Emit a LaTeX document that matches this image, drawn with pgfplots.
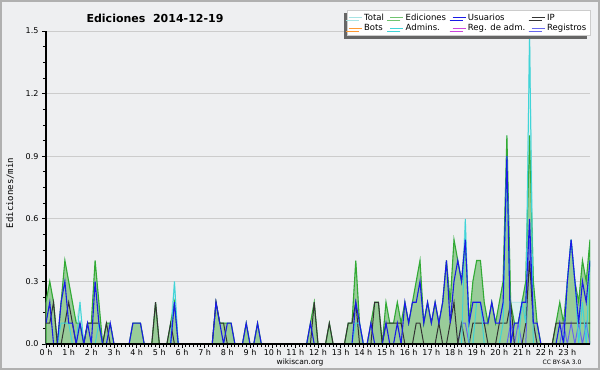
\documentclass[border=0pt]{standalone}
\usepackage{fontspec}
\setmainfont{DejaVu Sans}
\newfontfamily\monofont{DejaVu Sans Mono}
\usepackage{pgfplots}
\usepackage{pgfplotstable}
\pgfplotsset{compat=1.18}
\usetikzlibrary{shadows}
\definecolor{bg}{HTML}{EEEFF1}
\definecolor{framec}{HTML}{B0B0B0}
\definecolor{gridc}{HTML}{CCCCCC}
\definecolor{edfill}{HTML}{99CC99}
\definecolor{edline}{HTML}{33AA33}
\definecolor{usu}{HTML}{1A1AE6}
\definecolor{ipc}{HTML}{333333}
\definecolor{adm}{HTML}{40D4D8}
\definecolor{totline}{HTML}{A8E4E4}
\definecolor{totfill}{HTML}{DDF2F0}
\definecolor{bots}{HTML}{FF9933}
\definecolor{regadm}{HTML}{CC44DD}
\definecolor{reg}{HTML}{6666EE}
\pgfplotstableread{
i E U P A T R
0 0.2 0.1 0.1 0 0.2 0
1 0.3 0.2 0.1 0 0.3 0
2 0.2 0 0.2 0 0.2 0
3 0 0 0 0 0 0
4 0.2 0.2 0 0.1 0.2 0
5 0.4 0.3 0.1 0.1 0.4 0
6 0.3 0.1 0.2 0.1 0.3 0
7 0.2 0.1 0.1 0 0.2 0
8 0.1 0 0 0 0.1 0
9 0.1 0.1 0 0.2 0.2 0
10 0 0 0 0 0 0
11 0.1 0.1 0.1 0 0.1 0
12 0.1 0 0.1 0 0.1 0
13 0.4 0.3 0.1 0 0.4 0
14 0.2 0.1 0.1 0.1 0.2 0
15 0 0 0 0 0 0
16 0.1 0 0.1 0 0.1 0
17 0.1 0.1 0 0 0.1 0
18 0 0 0 0 0 0
19 0 0 0 0 0 0
20 0 0 0 0 0 0
21 0 0 0 0 0 0
22 0 0 0 0 0 0
23 0.1 0.1 0 0 0.1 0
24 0.1 0.1 0 0 0.1 0
25 0.1 0.1 0 0 0.1 0
26 0 0 0 0 0 0
27 0 0 0 0 0 0
28 0 0 0 0 0 0
29 0.2 0 0.2 0 0.2 0
30 0 0 0 0 0 0
31 0 0 0 0 0 0
32 0 0 0 0 0 0
33 0.1 0 0.1 0 0.1 0
34 0.2 0.2 0 0.3 0.3 0
35 0 0 0 0 0 0
36 0 0 0 0 0 0
37 0 0 0 0 0 0
38 0 0 0 0 0 0
39 0 0 0 0 0 0
40 0 0 0 0 0 0
41 0 0 0 0 0 0
42 0 0 0 0 0 0
43 0 0 0 0 0 0
44 0 0 0 0 0 0
45 0.2 0.2 0.2 0 0.2 0
46 0.1 0.1 0.1 0 0.1 0
47 0.1 0 0.1 0 0.1 0
48 0.1 0.1 0 0 0.1 0
49 0.1 0.1 0 0 0.1 0
50 0 0 0 0 0 0
51 0 0 0 0 0 0
52 0 0 0 0 0 0
53 0.1 0.1 0 0 0.1 0
54 0 0 0 0 0 0
55 0 0 0 0 0 0
56 0.1 0.1 0 0 0.1 0
57 0 0 0 0 0 0
58 0 0 0 0 0 0
59 0 0 0 0 0 0
60 0 0 0 0 0 0
61 0 0 0 0 0 0
62 0 0 0 0 0 0
63 0 0 0 0 0 0
64 0 0 0 0 0 0
65 0 0 0 0 0 0
66 0 0 0 0 0 0
67 0 0 0 0 0 0
68 0 0 0 0 0 0
69 0 0 0 0 0 0
70 0.1 0.1 0 0 0.1 0
71 0.2 0 0.2 0 0.2 0
72 0 0 0 0 0 0
73 0 0 0 0 0 0
74 0 0 0 0 0 0
75 0.1 0 0.1 0 0.1 0
76 0 0 0 0 0 0
77 0 0 0 0 0 0
78 0 0 0 0 0 0
79 0 0 0 0 0 0
80 0.1 0 0.1 0 0.1 0
81 0.1 0 0.1 0 0.1 0
82 0.4 0.2 0.2 0.1 0.4 0
83 0.1 0.1 0 0.1 0.1 0
84 0 0 0 0 0 0
85 0 0 0 0 0 0
86 0.1 0.1 0 0 0.1 0
87 0.2 0 0.2 0 0.2 0
88 0.2 0 0.2 0 0.2 0
89 0 0 0 0 0 0
90 0.2 0.1 0.1 0 0.2 0
91 0.1 0 0.1 0 0.1 0
92 0.1 0 0.1 0 0.1 0
93 0.2 0.1 0.1 0 0.2 0
94 0.1 0 0.1 0 0.1 0
95 0.2 0.2 0 0 0.2 0
96 0.1 0.1 0 0 0.1 0
97 0.2 0.2 0 0 0.2 0
98 0.3 0.2 0.1 0 0.3 0
99 0.4 0.3 0.1 0 0.4 0
100 0.1 0.1 0 0 0.1 0
101 0.2 0.2 0 0 0.2 0
102 0.1 0.1 0 0 0.1 0
103 0.2 0.2 0 0 0.2 0
104 0.1 0.1 0.1 0 0.1 0
105 0.2 0.2 0 0 0.2 0
106 0.4 0.4 0 0 0.4 0
107 0.2 0.1 0.1 0 0.2 0
108 0.5 0.3 0.2 0 0.5 0
109 0.4 0.4 0 0 0.4 0
110 0.3 0.3 0.1 0 0.3 0.1
111 0.5 0.5 0 0.6 0.6 0.1
112 0.1 0.1 0 0 0.1 0
113 0.3 0.2 0.1 0 0.3 0
114 0.4 0.2 0.1 0.2 0.4 0
115 0.4 0.2 0.1 0.2 0.4 0
116 0.2 0.1 0.1 0 0.2 0
117 0.1 0.1 0 0 0.1 0
118 0.2 0.2 0 0 0.2 0
119 0.1 0.1 0 0 0.1 0
120 0.2 0.1 0.1 0 0.2 0
121 0.3 0.2 0.1 0.1 0.3 0
122 1.0 0.9 0.1 0.9 1.0 0
123 0.2 0 0.2 0 0.2 0.1
124 0.1 0.1 0 0 0.2 0
125 0.1 0.1 0 0 0.2 0.1
126 0.2 0.2 0 0.2 0.2 0
127 0.3 0.2 0.1 0.1 0.3 0
128 1.0 0.6 0.4 1.5 1.5 0.5
129 0.3 0.1 0.1 0 0.3 0.1
130 0.1 0.1 0 0 0.1 0
131 0 0 0 0 0 0
132 0 0 0 0 0 0
133 0 0 0 0 0 0
134 0 0 0 0 0 0
135 0.1 0 0.1 0 0.1 0
136 0.2 0.1 0.1 0 0.2 0
137 0.1 0 0.1 0 0.1 0.1
138 0.3 0.3 0.1 0.3 0.3 0
139 0.5 0.5 0.1 0.5 0.5 0.1
140 0.3 0.3 0.1 0.3 0.3 0
141 0.2 0.1 0.1 0 0.2 0.1
142 0.4 0.3 0.1 0.2 0.4 0
143 0.3 0.2 0.1 0 0.3 0.1
144 0.5 0.4 0.1 0.4 0.5 0
}\data
\begin{document}
\begin{tikzpicture}
\useasboundingbox (0pt,0pt) rectangle (600pt,370pt);
\fill[bg] (0pt,0pt) rectangle (600pt,370pt);
\draw[framec, line width=2pt] (1pt,1pt) rectangle (599pt,369pt);
\begin{axis}[
  at={(46pt,26pt)}, anchor=south west,
  scale only axis, width=544pt, height=313pt,
  axis lines*=left,
  axis line style={black, line width=1.3pt},
  xmin=0, xmax=144, ymin=0, ymax=1.5,
  xtick={0,6,...,138},
  xticklabels={0 h,1 h,2 h,3 h,4 h,5 h,6 h,7 h,8 h,9 h,10 h,11 h,12 h,13 h,14 h,15 h,16 h,17 h,18 h,19 h,20 h,21 h,22 h,23 h},
  minor x tick num=5,
  ytick={0,0.3,0.6,0.9,1.2,1.5},
  minor y tick num=3,
  yticklabel style={/pgf/number format/.cd, fixed, fixed zerofill, precision=1, assume math mode=true},
  xticklabel style={yshift=2.5pt},
  tick label style={font=\fontsize{8}{9}\selectfont},
  tick align=outside,
  major tick length=4pt, minor tick length=3pt,
  tick style={black, line width=0.8pt},
  ymajorgrids, grid style={gridc, line width=0.8pt},
  legend style={at={(1,1)}, anchor=north east, yshift=21pt,
    draw=gray!40, fill=white, inner sep=1.5pt,
    font=\fontsize{8.5}{9.5}\selectfont,
    drop shadow={shadow xshift=-3pt, shadow yshift=-3pt, fill=gray!80!black, opacity=1},
    /tikz/every even column/.append style={column sep=4pt},
    row sep=-1.5pt},
  legend columns=4,
  legend cell align=left,
  legend image code/.code={\draw[#1] (0pt,0pt) -- (13pt,0pt);},
]
\addplot[draw=totline, fill=totfill, line width=0.8pt, forget plot] table[x=i,y=T]{\data} \closedcycle;
\addplot[draw=edline, fill=edfill, line width=1.1pt, forget plot] table[x=i,y=E]{\data} \closedcycle;
\addplot[reg, line width=1pt, forget plot] table[x=i,y=R]{\data};
\addplot[ipc, line width=1pt, forget plot] table[x=i,y=P]{\data};
\addplot[adm, line width=1pt, forget plot] table[x=i,y=A]{\data};
\addplot[usu, line width=1.1pt, forget plot] table[x=i,y=U]{\data};
\draw[black, line width=1.3pt] (rel axis cs:0,0) -- (rel axis cs:1,0);
\addlegendimage{totline, line width=0.8pt}\addlegendentry{Total}
\addlegendimage{edline!70, line width=0.8pt}\addlegendentry{Ediciones}
\addlegendimage{usu, line width=0.8pt}\addlegendentry{Usuarios}
\addlegendimage{ipc, line width=0.8pt}\addlegendentry{IP}
\addlegendimage{bots, line width=0.8pt}\addlegendentry{Bots}
\addlegendimage{adm, line width=0.8pt}\addlegendentry{Admins.}
\addlegendimage{regadm, line width=0.8pt}\addlegendentry{Reg. de adm.}
\addlegendimage{reg, line width=0.8pt}\addlegendentry{Registros}
\end{axis}
\node[font=\bfseries\fontsize{11}{13}\selectfont] at (155pt,352pt) {Ediciones\ \ 2014-12-19};
\node[rotate=90, font=\monofont\fontsize{9}{10}\selectfont] at (10pt,177pt) {Ediciones/min};
\node[font=\fontsize{7.5}{9}\selectfont] at (300pt,8pt) {wikiscan.org};
\node[font=\fontsize{6}{7}\selectfont] at (562pt,8pt) {CC BY-SA 3.0};
\end{tikzpicture}
\end{document}
